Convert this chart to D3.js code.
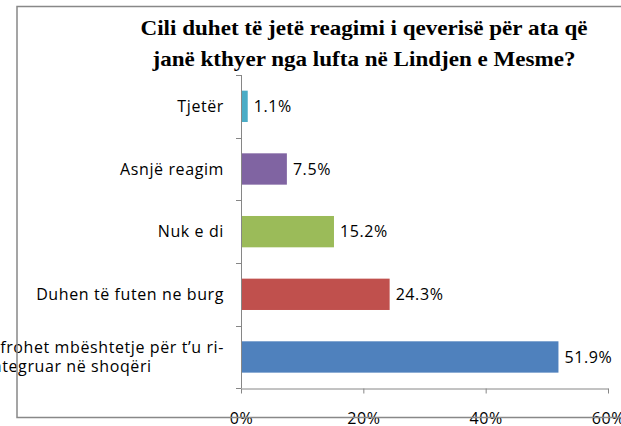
<!DOCTYPE html>
<html lang="sq">
<head>
<meta charset="utf-8">
<title>Reagimi i qeverisë</title>
<script src="https://d3js.org/d3.v7.min.js"></script>
<style>
body { margin: 0; background: #fff; }
.cat, .val, .xlab { font-family: "Open Sans", sans-serif; font-size: 16px; fill: #000; letter-spacing: 0.6px; }
.title { font-family: "Liberation Serif", "Times New Roman", serif; font-weight: bold; font-size: 22px; fill: #000; }
</style>
</head>
<body>
<div id="chart"></div>
<script>
// data
var categories = ["Tjetër", "Asnjë reagim", "Nuk e di", "Duhen të futen ne burg", "Ofrohet mbështetje për t’u ri-|integruar në shoqëri"];
var values = [1.1, 7.5, 15.2, 24.3, 51.9];
var colors = ["#4bacc6", "#8064a2", "#9bbb59", "#c0504d", "#4f81bd"];
var xTicks = [0, 20, 40, 60];
var titleLines = ["Cili duhet të jetë reagimi i qeverisë për ata që", "janë kthyer nga lufta në Lindjen e Mesme?"];

var w = 621, h = 426;
var svg = d3.select("#chart").append("svg").attr("width", w).attr("height", h);

var x = d3.scaleLinear().domain([0, 60]).range([241, 608]);
var y = d3.scaleBand().domain(categories).range([75, 388.3]).paddingInner(0.5).paddingOuter(0.25);

// title
svg.selectAll("text.title")
    .data(titleLines)
    .enter().append("text")
    .attr("class", "title")
    .attr("x", 364)
    .attr("y", function(d, i) { return 35 + i * 31; })
    .attr("text-anchor", "middle")
    .attr("textLength", function(d, i) { return i == 0 ? 447 : 423; })
    .attr("lengthAdjust", "spacingAndGlyphs")
    .text(function(d) { return d; });

// bars
svg.append("g").selectAll("rect")
    .data(values)
    .enter().append("rect")
    .attr("x", x(0))
    .attr("y", function(d, i) { return y(categories[i]); })
    .attr("width", function(d) { return x(d) - x(0); })
    .attr("height", y.bandwidth())
    .attr("fill", function(d, i) { return colors[i]; });

// value labels
svg.append("g").selectAll("text")
    .data(values)
    .enter().append("text")
    .attr("class", "val")
    .attr("x", function(d) { return x(d) + 6; })
    .attr("y", function(d, i) { return y(categories[i]) + y.bandwidth() / 2; })
    .attr("dy", "0.36em")
    .text(function(d) { return d.toFixed(1) + "%"; });

// y axis: line plus ticks on band boundaries
var ya = svg.append("g").attr("stroke", "#868686").attr("stroke-width", 1);
var r = y.range();
ya.append("line").attr("x1", x(0) + 0.5).attr("x2", x(0) + 0.5).attr("y1", r[0]).attr("y2", r[1]);
d3.range(categories.length + 1).forEach(function(i) {
    var yy = Math.round(r[0] + i * y.step()) + 0.5;
    ya.append("line").attr("x1", x(0) - 5).attr("x2", x(0)).attr("y1", yy).attr("y2", yy);
});

// category labels
var labX = 224;
svg.append("g").selectAll("text")
    .data(categories)
    .enter().append("text")
    .attr("class", "cat")
    .attr("y", function(d) { return y(d) + y.bandwidth() / 2; })
    .each(function(d) {
        var t = d3.select(this);
        var parts = d.split("|");
        if (parts.length == 1) {
            t.attr("x", labX).attr("dy", "0.36em").attr("text-anchor", "end").text(d);
        } else {
            var first = t.append("tspan").attr("x", labX).attr("dy", "-0.24em").attr("text-anchor", "end").text(parts[0]);
            var w1 = first.node().getComputedTextLength();
            t.append("tspan").attr("x", labX - w1).attr("dy", "1.19em").text(parts[1]);
        }
    });

// x axis
var xa = svg.append("g")
    .attr("transform", "translate(0," + (r[1] + 0.2) + ")")
    .call(d3.axisBottom(x).tickValues(xTicks).tickFormat(function(d) { return d + "%"; })
        .tickSizeInner(5).tickSizeOuter(0).tickPadding(19));
xa.select(".domain").attr("stroke", "#868686");
xa.selectAll(".tick line").attr("stroke", "#868686");
xa.selectAll(".tick text").attr("class", "xlab").attr("font-family", null).attr("font-size", null);

// outer chart frame
svg.append("path")
    .attr("d", "M" + (w + 5) + ",6.5 H17 V417.5 H" + (w + 5))
    .attr("fill", "none")
    .attr("stroke", "#888")
    .attr("stroke-width", 1.5);
</script>
</body>
</html>
